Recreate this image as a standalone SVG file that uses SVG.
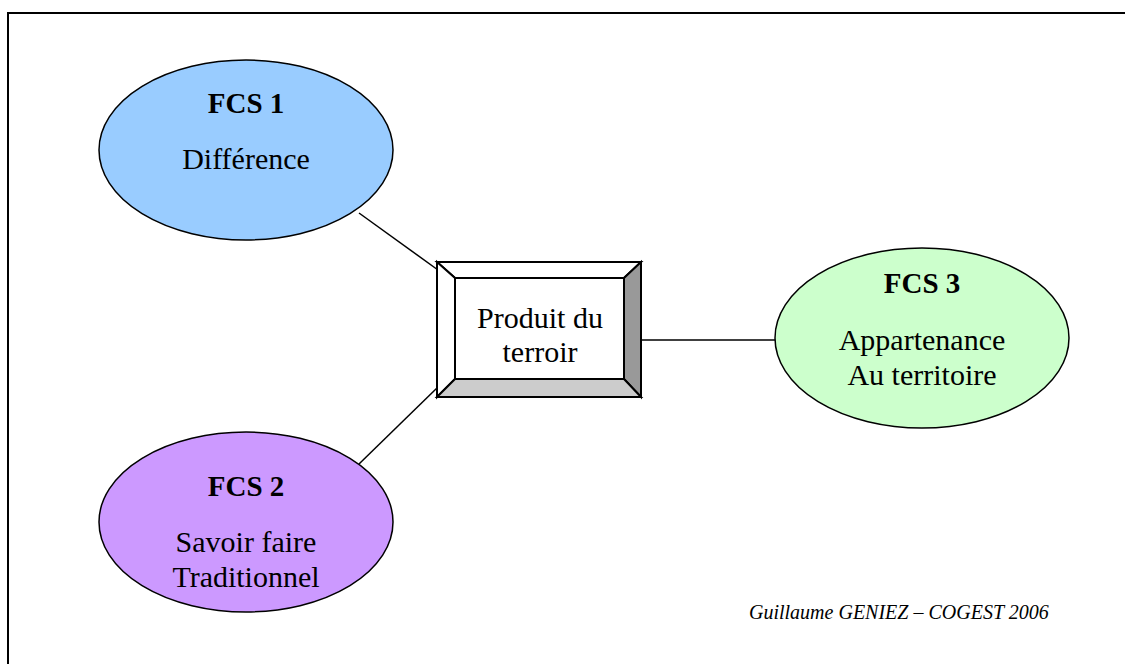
<svg xmlns="http://www.w3.org/2000/svg" width="1125" height="664" viewBox="0 0 1125 664">
  <style>
    .frame { fill: #ffffff; stroke: #000000; stroke-width: 2; }
    .bubble { stroke: #000000; stroke-width: 1.5; }
    .link { stroke: #000000; stroke-width: 1.5; fill: none; }
    .bevel { stroke: #000000; stroke-width: 2; stroke-linejoin: miter; }
    text { font-family: "Liberation Serif", "Times New Roman", serif; font-size: 30px; fill: #000000; text-anchor: middle; }
    .title { font-weight: bold; font-size: 29px; }
    .credit { font-size: 20px; font-style: italic; text-anchor: start; }
  </style>

  <!-- page frame -->
  <rect class="frame" x="8" y="13" width="1140" height="700"/>

  <g id="connectors">
    <line class="link" x1="359" y1="213" x2="438" y2="270"/>
    <line class="link" x1="438" y1="387" x2="359" y2="464"/>
    <line class="link" x1="641" y1="340" x2="776" y2="340"/>
  </g>

  <g id="fcs1">
    <ellipse class="bubble" cx="246" cy="150" rx="147" ry="90" fill="#99CCFF"/>
    <text class="title" x="246" y="113">FCS 1</text>
    <text x="246" y="169">Différence</text>
  </g>

  <g id="fcs2">
    <ellipse class="bubble" cx="246" cy="522" rx="147" ry="90" fill="#CC99FF"/>
    <text class="title" x="246" y="496">FCS 2</text>
    <text x="246" y="552">Savoir faire</text>
    <text x="246" y="587">Traditionnel</text>
  </g>

  <g id="fcs3">
    <ellipse class="bubble" cx="922" cy="338" rx="147" ry="90" fill="#CCFFCC"/>
    <text class="title" x="922" y="293">FCS 3</text>
    <text x="922" y="350">Appartenance</text>
    <text x="922" y="385">Au territoire</text>
  </g>

  <g id="produit">
    <!-- bevelled frame: top, left, right, bottom faces -->
    <polygon class="bevel" points="437,262 641,262 624,278 455,278" fill="#ffffff"/>
    <polygon class="bevel" points="437,262 455,278 455,379 437,397" fill="#ffffff"/>
    <polygon class="bevel" points="641,262 641,397 624,379 624,278" fill="#999999"/>
    <polygon class="bevel" points="437,397 455,379 624,379 641,397" fill="#CCCCCC"/>
    <rect class="bevel" x="455" y="278" width="169" height="101" fill="#ffffff"/>
    <text x="540" y="328">Produit du</text>
    <text x="540" y="362">terroir</text>
  </g>

  <text class="credit" x="749" y="619">Guillaume GENIEZ – COGEST 2006</text>
</svg>
